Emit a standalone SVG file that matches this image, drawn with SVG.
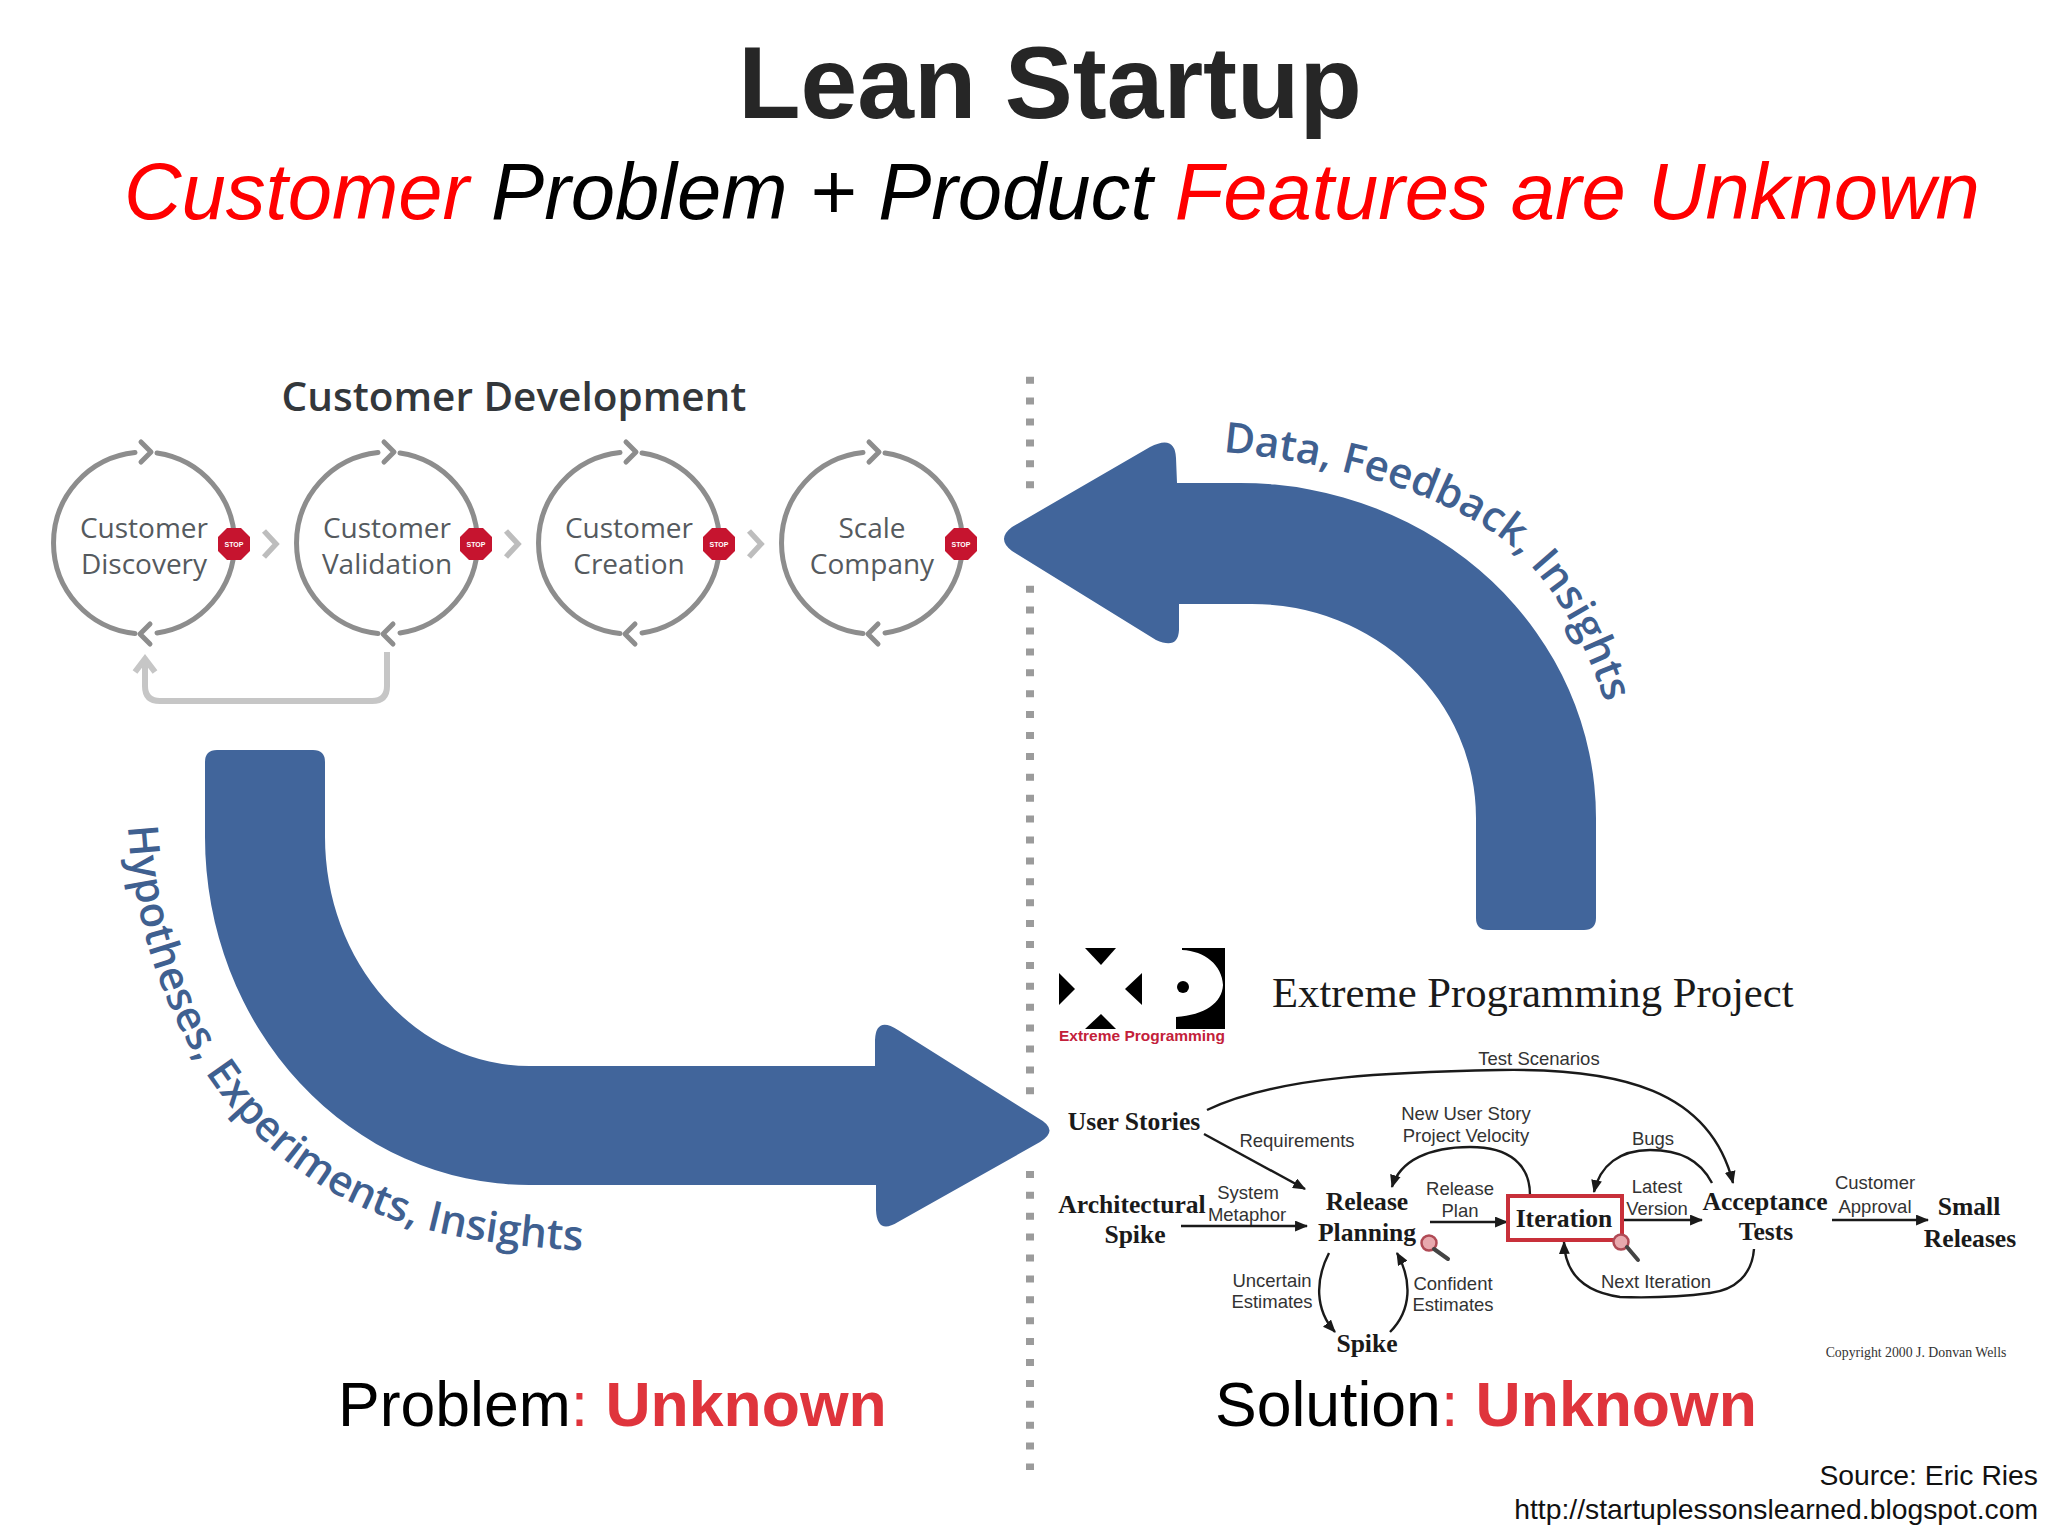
<svg xmlns="http://www.w3.org/2000/svg" xmlns:xlink="http://www.w3.org/1999/xlink" width="2048" height="1536" viewBox="0 0 2048 1536">
<style>
text{font-family:"Liberation Sans",Arial,sans-serif}
.os{font-family:"Open Sans","Noto Sans",sans-serif}
.cyc{font-family:"Open Sans","Noto Sans",sans-serif;font-size:28px;fill:#555a5e;text-anchor:middle}
.blue{fill:#41659b}
.curve{font-family:"Open Sans","Noto Sans",sans-serif;font-size:42px;font-weight:600;fill:#3f6090}
.big{font-size:62.5px;fill:#000}
.unk{font-weight:700;fill:#df343c}
.col{fill:#df343c}
.nd{font-family:"Liberation Serif","Times New Roman",serif;font-weight:700;font-size:25.6px;fill:#1a1a1a;text-anchor:middle}
.lb{font-size:18.5px;fill:#333;text-anchor:middle}
.cn{fill:none;stroke:#1a1a1a;stroke-width:2.4}
.ca{marker-end:url(#ah)}
.ring{fill:none;stroke:#8d8d8d;stroke-width:5;stroke-linecap:round;stroke-linejoin:round}
.next{fill:none;stroke:#bdbdbd;stroke-width:5.5}
.stoptxt{font-size:7px;font-weight:700;fill:#fff;text-anchor:middle}
.mag{fill:#e8a9ae;stroke:#b04a55;stroke-width:2.5}
.magh{stroke:#444;stroke-width:4;stroke-linecap:round}
</style>
<defs>
<marker id="ah" viewBox="0 0 12 10" refX="11" refY="5" markerWidth="13" markerHeight="11" markerUnits="userSpaceOnUse" orient="auto"><path d="M0,0L12,5L0,10z" fill="#1a1a1a"/></marker>
<g id="cycle">
<path class="ring" d="M-9,-90.500A91,91 0 0 0 -9,90.500"/>
<path class="ring" d="M13,-90A91,91 0 0 1 13,90"/>
<path class="ring" d="M-3,-101L7,-91L-3,-81"/>
<path class="ring" d="M6,81L-4,91L6,101"/>
</g>
<g id="stop"><polygon points="-7,-16 7,-16 16,-7 16,7 7,16 -7,16 -16,7 -16,-7" fill="#c6142f"/><text class="stoptxt" y="2.500">STOP</text></g>
<path id="p1" d="M1223,452C1330,462 1440,490 1510,545C1560,590 1590,650 1612,725"/>
<path id="p2" d="M128,826C135,950 185,1100 320,1185C400,1235 490,1245 600,1252"/>
</defs>
<rect width="2048" height="1536" fill="#fff"/>
<text id="title" x="1050" y="118" text-anchor="middle" font-size="102" font-weight="700" fill="#262626">Lean Startup</text>
<text id="subtitle" x="124" y="219" font-size="79.600" font-style="italic" fill="#000"><tspan fill="#f00">Customer</tspan> Problem + Product <tspan fill="#f00">Features are Unknown</tspan></text>

<path id="divider" d="M1030,376.700V1470" fill="none" stroke="#9b9b9b" stroke-width="8" stroke-dasharray="7 13.900"/>
<rect x="1020" y="494" width="20" height="86" fill="#fff"/>
<rect x="1020" y="1098" width="20" height="70" fill="#fff"/>

<g id="arrow-feedback"><path class="blue" d="M1012,527L1150,447Q1175,434 1176,458L1177,483H1240A356,335 0 0 1 1596,818V918Q1596,930 1584,930H1488Q1476,930 1476,918V818A224,214 0 0 0 1252,604H1179V630Q1178,650 1156,640L1012,551Q996,539 1012,527Z"/>
<text class="curve"><textPath href="#p1" xlink:href="#p1">Data, Feedback, Insights</textPath></text></g>

<g id="arrow-hypotheses"><path class="blue" d="M205,762Q205,750 217,750H313Q325,750 325,762V837A204,229 0 0 0 529,1066H875V1040Q876,1016 898,1030L1038,1118Q1060,1130 1040,1142L898,1222Q877,1235 876,1210V1185H529A324,348 0 0 1 205,837Z"/>
<text class="curve"><textPath href="#p2" xlink:href="#p2">Hypotheses, Experiments, Insights</textPath></text></g>

<g id="customer-development">
<text id="cd-title" class="os" x="514" y="411" text-anchor="middle" font-size="40.500" font-weight="600" fill="#33373b">Customer Development</text>
<g id="cd-discovery"><use href="#cycle" xlink:href="#cycle" x="144" y="543"/><use href="#stop" xlink:href="#stop" x="234" y="544"/><text class="cyc" x="144" y="538">Customer</text><text class="cyc" x="144" y="574">Discovery</text></g>
<g id="cd-validation"><use href="#cycle" xlink:href="#cycle" x="387" y="543"/><use href="#stop" xlink:href="#stop" x="476" y="544"/><text class="cyc" x="387" y="538">Customer</text><text class="cyc" x="387" y="574">Validation</text></g>
<g id="cd-creation"><use href="#cycle" xlink:href="#cycle" x="629" y="543"/><use href="#stop" xlink:href="#stop" x="719" y="544"/><text class="cyc" x="629" y="538">Customer</text><text class="cyc" x="629" y="574">Creation</text></g>
<g id="cd-scale"><use href="#cycle" xlink:href="#cycle" x="872" y="543"/><use href="#stop" xlink:href="#stop" x="961" y="544"/><text class="cyc" x="872" y="538">Scale</text><text class="cyc" x="872" y="574">Company</text></g>
<g id="cd-connectors">
<path class="next" d="M264,531L276,544L264,557M506,531L518,544L506,557M749,531L761,544L749,557"/>
<path d="M387,652V686Q387,701 372,701H160Q145,701 145,686V661M135,672L145,659L155,672" fill="none" stroke="#c6c6c6" stroke-width="6"/>
</g>
</g>

<g id="xp-logo">
<polygon points="1085,948 1116,948 1101,965"/>
<polygon points="1059,973 1075,989 1059,1005"/>
<polygon points="1142,973 1125,989 1142,1005"/>
<polygon points="1085,1029 1116,1029 1101,1014"/>
<path d="M1182,948H1225V1029H1176V1017C1205,1015 1222,1003 1223,985C1222,965 1205,951 1182,950Z"/>
<circle cx="1183" cy="987" r="6"/>
<text x="1059" y="1041" font-size="14" font-weight="700" fill="#c3203a" textLength="166" lengthAdjust="spacingAndGlyphs">Extreme Programming</text>
</g>
<text id="xp-title" x="1272" y="1007" font-size="42.700" fill="#1a1a1a" style="font-family:'Liberation Serif','Times New Roman',serif">Extreme Programming Project</text>

<g id="xp-connectors">
<path class="cn ca" d="M1207,1110C1280,1075 1400,1072 1500,1070C1620,1068 1710,1090 1733,1183"/>
<path class="cn ca" d="M1204,1134L1305,1189"/>
<path class="cn ca" d="M1530,1195C1530,1165 1510,1147 1470,1147C1430,1147 1400,1160 1392,1187"/>
<path class="cn ca" d="M1712,1183C1700,1160 1680,1150 1650,1150C1620,1150 1600,1165 1594,1192"/>
<path class="cn ca" d="M1181,1226H1307"/>
<path class="cn ca" d="M1430,1222H1507"/>
<path class="cn ca" d="M1622,1220H1702"/>
<path class="cn ca" d="M1832,1220H1928"/>
<path class="cn ca" d="M1329,1253C1315,1280 1315,1310 1335,1332"/>
<path class="cn ca" d="M1390,1332C1412,1310 1412,1280 1397,1253"/>
<path class="cn ca" d="M1754,1249C1752,1275 1735,1290 1710,1293C1680,1297 1650,1298 1620,1297C1585,1292 1565,1275 1564,1242"/>
</g>

<g id="xp-user-stories"><text class="nd" x="1134" y="1130">User Stories</text></g>
<g id="xp-arch-spike"><text class="nd" x="1132" y="1213">Architectural</text><text class="nd" x="1135" y="1243">Spike</text></g>
<g id="xp-release-planning"><text class="nd" x="1367" y="1210">Release</text><text class="nd" x="1367" y="1241">Planning</text><circle class="mag" cx="1429" cy="1243" r="7.500"/><line class="magh" x1="1434" y1="1249" x2="1448" y2="1259"/></g>
<g id="xp-iteration"><rect x="1508" y="1196" width="114" height="44" fill="#fff" stroke="#c8303a" stroke-width="4"/><text class="nd" x="1564" y="1227">Iteration</text><circle class="mag" cx="1621" cy="1242" r="7.500"/><line class="magh" x1="1627" y1="1247" x2="1638" y2="1260"/></g>
<g id="xp-acceptance"><text class="nd" x="1765" y="1210">Acceptance</text><text class="nd" x="1766" y="1240">Tests</text></g>
<g id="xp-small-releases"><text class="nd" x="1969" y="1215">Small</text><text class="nd" x="1970" y="1247">Releases</text></g>
<g id="xp-spike"><text class="nd" x="1367" y="1352">Spike</text></g>

<g id="xp-labels">
<text class="lb" x="1539" y="1065">Test Scenarios</text>
<text class="lb" x="1297" y="1147">Requirements</text>
<text class="lb" x="1466" y="1120">New User Story</text>
<text class="lb" x="1466" y="1142">Project Velocity</text>
<text class="lb" x="1653" y="1145">Bugs</text>
<text class="lb" x="1248" y="1199">System</text>
<text class="lb" x="1247" y="1221">Metaphor</text>
<text class="lb" x="1460" y="1195">Release</text>
<text class="lb" x="1460" y="1217">Plan</text>
<text class="lb" x="1657" y="1193">Latest</text>
<text class="lb" x="1657" y="1215">Version</text>
<text class="lb" x="1875" y="1189">Customer</text>
<text class="lb" x="1875" y="1213">Approval</text>
<text class="lb" x="1272" y="1287">Uncertain</text>
<text class="lb" x="1272" y="1308">Estimates</text>
<text class="lb" x="1453" y="1290">Confident</text>
<text class="lb" x="1453" y="1311">Estimates</text>
<text class="lb" x="1656" y="1288">Next Iteration</text>
<text x="1916" y="1357" font-size="13.800" text-anchor="middle" fill="#333" style="font-family:'Liberation Serif','Times New Roman',serif">Copyright 2000 J. Donvan Wells</text>
</g>

<text id="problem" class="big" x="338" y="1426">Problem<tspan class="col">: </tspan><tspan class="unk">Unknown</tspan></text>
<text id="solution" class="big" x="1215" y="1426">Solution<tspan class="col">: </tspan><tspan class="unk">Unknown</tspan></text>
<text id="source1" x="2038" y="1485" text-anchor="end" font-size="28.300" fill="#111">Source: Eric Ries</text>
<text id="source2" x="2038" y="1519" text-anchor="end" font-size="28.300" fill="#111">http://startuplessonslearned.blogspot.com</text>
</svg>
